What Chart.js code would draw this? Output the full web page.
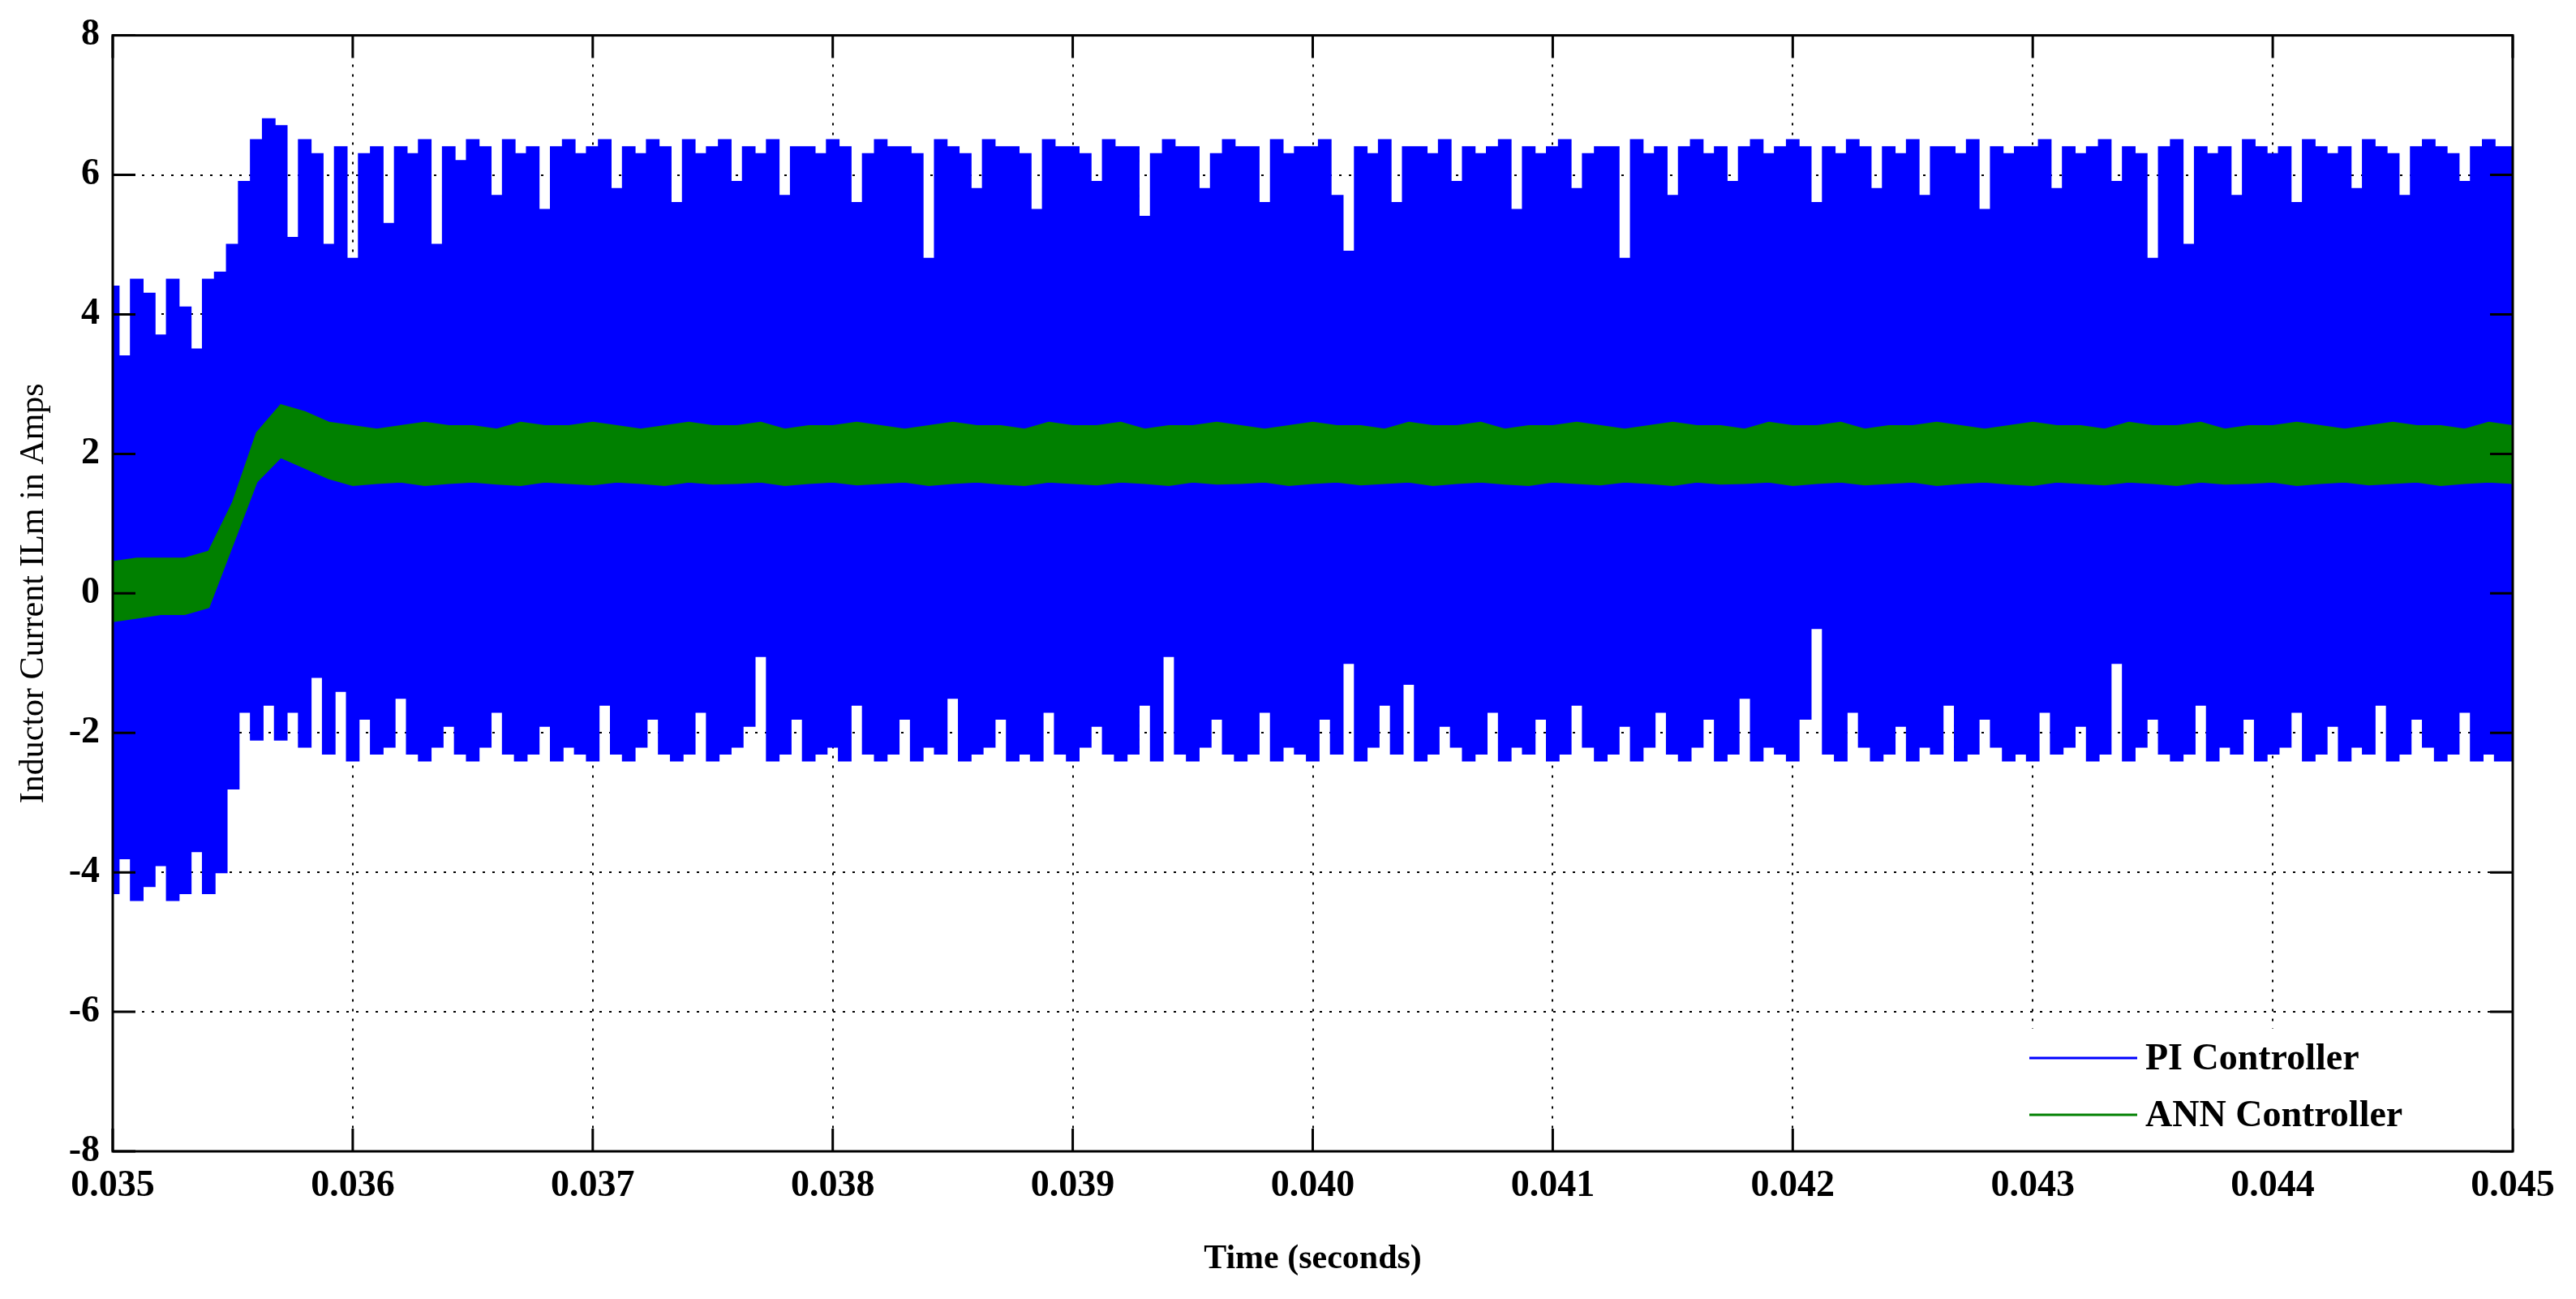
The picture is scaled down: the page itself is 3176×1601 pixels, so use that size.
<!DOCTYPE html>
<html>
<head>
<meta charset="utf-8">
<script src="https://cdn.jsdelivr.net/npm/chart.js@4.4.0/dist/chart.umd.min.js"></script>
<style>
  html, body { margin: 0; padding: 0; background: #fff; }
  #wrap { width: 3176px; height: 1601px; }
</style>
</head>
<body>
<div id="wrap"><canvas id="grafico" width="3176" height="1601"></canvas></div>
<script>
// dados (envelopes superior e inferior de cada corrente)
const tInicio = 0.035;
const passoAzul = 0.00005;
const passoVerde = 0.0001;

const piSuperior = [
  4.4,3.4,4.5,4.3,3.7,4.5,4.1,3.5,4.5,4.6,5.0,5.9,6.5,6.8,6.7,5.1,6.5,6.3,5.0,6.4,
  4.8,6.3,6.4,5.3,6.4,6.3,6.5,5.0,6.4,6.2,6.5,6.4,5.7,6.5,6.3,6.4,5.5,6.4,6.5,6.3,
  6.4,6.5,5.8,6.4,6.3,6.5,6.4,5.6,6.5,6.3,6.4,6.5,5.9,6.4,6.3,6.5,5.7,6.4,6.4,6.3,
  6.5,6.4,5.6,6.3,6.5,6.4,6.4,6.3,4.8,6.5,6.4,6.3,5.8,6.5,6.4,6.4,6.3,5.5,6.5,6.4,
  6.4,6.3,5.9,6.5,6.4,6.4,5.4,6.3,6.5,6.4,6.4,5.8,6.3,6.5,6.4,6.4,5.6,6.5,6.3,6.4,
  6.4,6.5,5.7,4.9,6.4,6.3,6.5,5.6,6.4,6.4,6.3,6.5,5.9,6.4,6.3,6.4,6.5,5.5,6.4,6.3,
  6.4,6.5,5.8,6.3,6.4,6.4,4.8,6.5,6.3,6.4,5.7,6.4,6.5,6.3,6.4,5.9,6.4,6.5,6.3,6.4,
  6.5,6.4,5.6,6.4,6.3,6.5,6.4,5.8,6.4,6.3,6.5,5.7,6.4,6.4,6.3,6.5,5.5,6.4,6.3,6.4,
  6.4,6.5,5.8,6.4,6.3,6.4,6.5,5.9,6.4,6.3,4.8,6.4,6.5,5.0,6.4,6.3,6.4,5.7,6.5,6.4,
  6.3,6.4,5.6,6.5,6.4,6.3,6.4,5.8,6.5,6.4,6.3,5.7,6.4,6.5,6.4,6.3,5.9,6.4,6.5,6.4,6.4
];
const piInferior = [
  -4.3,-3.8,-4.4,-4.2,-3.9,-4.4,-4.3,-3.7,-4.3,-4.0,-2.8,-1.7,-2.1,-1.6,-2.1,-1.7,-2.2,-1.2,-2.3,-1.4,
  -2.4,-1.8,-2.3,-2.2,-1.5,-2.3,-2.4,-2.2,-1.9,-2.3,-2.4,-2.2,-1.7,-2.3,-2.4,-2.3,-1.9,-2.4,-2.2,-2.3,
  -2.4,-1.6,-2.3,-2.4,-2.2,-1.8,-2.3,-2.4,-2.3,-1.7,-2.4,-2.3,-2.2,-1.9,-0.9,-2.4,-2.3,-1.8,-2.4,-2.3,
  -2.2,-2.4,-1.6,-2.3,-2.4,-2.3,-1.8,-2.4,-2.2,-2.3,-1.5,-2.4,-2.3,-2.2,-1.8,-2.4,-2.3,-2.4,-1.7,-2.3,
  -2.4,-2.2,-1.9,-2.3,-2.4,-2.3,-1.6,-2.4,-0.9,-2.3,-2.4,-2.2,-1.8,-2.3,-2.4,-2.3,-1.7,-2.4,-2.2,-2.3,
  -2.4,-1.8,-2.3,-1.0,-2.4,-2.2,-1.6,-2.3,-1.3,-2.4,-2.3,-1.9,-2.2,-2.4,-2.3,-1.7,-2.4,-2.2,-2.3,-1.8,
  -2.4,-2.3,-1.6,-2.2,-2.4,-2.3,-1.9,-2.4,-2.2,-1.7,-2.3,-2.4,-2.2,-1.8,-2.4,-2.3,-1.5,-2.4,-2.2,-2.3,
  -2.4,-1.8,-0.5,-2.3,-2.4,-1.7,-2.2,-2.4,-2.3,-1.9,-2.4,-2.2,-2.3,-1.6,-2.4,-2.3,-1.8,-2.2,-2.4,-2.3,
  -2.4,-1.7,-2.3,-2.2,-1.9,-2.4,-2.3,-1.0,-2.4,-2.2,-1.8,-2.3,-2.4,-2.3,-1.6,-2.4,-2.2,-2.3,-1.8,-2.4,
  -2.3,-2.2,-1.7,-2.4,-2.3,-1.9,-2.4,-2.2,-2.3,-1.6,-2.4,-2.3,-1.8,-2.2,-2.4,-2.3,-1.7,-2.4,-2.3,-2.4,-2.4
];

const annSuperior = [
  0.45,0.5,0.5,0.5,0.6,1.3,2.3,2.7,2.6,2.45,2.4,2.35,2.4,2.45,2.4,2.4,2.35,2.45,2.4,2.4,
  2.45,2.4,2.35,2.4,2.45,2.4,2.4,2.45,2.35,2.4,2.4,2.45,2.4,2.35,2.4,2.45,2.4,2.4,2.35,2.45,
  2.4,2.4,2.45,2.35,2.4,2.4,2.45,2.4,2.35,2.4,2.45,2.4,2.4,2.35,2.45,2.4,2.4,2.45,2.35,2.4,
  2.4,2.45,2.4,2.35,2.4,2.45,2.4,2.4,2.35,2.45,2.4,2.4,2.45,2.35,2.4,2.4,2.45,2.4,2.35,2.4,
  2.45,2.4,2.4,2.35,2.45,2.4,2.4,2.45,2.35,2.4,2.4,2.45,2.4,2.35,2.4,2.45,2.4,2.4,2.35,2.45,2.4
];
const annInferior = [
  -0.4,-0.35,-0.3,-0.3,-0.2,0.7,1.6,1.95,1.8,1.65,1.55,1.58,1.6,1.55,1.58,1.6,1.57,1.55,1.6,1.58,
  1.56,1.6,1.58,1.55,1.6,1.57,1.58,1.6,1.55,1.58,1.6,1.56,1.58,1.6,1.55,1.58,1.6,1.57,1.55,1.6,
  1.58,1.56,1.6,1.58,1.55,1.6,1.57,1.58,1.6,1.55,1.58,1.6,1.56,1.58,1.6,1.55,1.58,1.6,1.57,1.55,
  1.6,1.58,1.56,1.6,1.58,1.55,1.6,1.57,1.58,1.6,1.55,1.58,1.6,1.56,1.58,1.6,1.55,1.58,1.6,1.57,
  1.55,1.6,1.58,1.56,1.6,1.58,1.55,1.6,1.57,1.58,1.6,1.55,1.58,1.6,1.56,1.58,1.6,1.55,1.58,1.6,1.58
];

const legendas = ['PI Controller', 'ANN Controller'];
const coresLinhas = ['#0000ff', '#008000'];

function pontos(valores, passo) {
  return valores.map((v, i) => ({ x: tInicio + i * passo, y: v }));
}

const fonte = 'Liberation Serif, Times New Roman, serif';

// moldura, marcas internas, rotulos dos eixos e legenda
const molduraPlugin = {
  id: 'moldura',
  afterDraw(chart) {
    const ctx = chart.ctx;
    const a = chart.chartArea;
    const sx = chart.scales.x, sy = chart.scales.y;
    ctx.save();
    ctx.strokeStyle = '#000';
    ctx.lineWidth = 3;
    ctx.setLineDash([]);
    // marcas dos ticks
    sx.ticks.forEach(t => {
      const px = sx.getPixelForValue(t.value);
      ctx.beginPath();
      ctx.moveTo(px, a.top); ctx.lineTo(px, a.top + 28);
      ctx.moveTo(px, a.bottom); ctx.lineTo(px, a.bottom - 28);
      ctx.stroke();
    });
    sy.ticks.forEach(t => {
      const py = sy.getPixelForValue(t.value);
      ctx.beginPath();
      ctx.moveTo(a.left, py); ctx.lineTo(a.left + 28, py);
      ctx.moveTo(a.right, py); ctx.lineTo(a.right - 28, py);
      ctx.stroke();
    });
    // legenda
    const lx = 2487, ly = 1268;
    ctx.fillStyle = '#fff';
    ctx.fillRect(lx, ly, a.right - lx, a.bottom - ly);
    ctx.font = 'bold 46px ' + fonte;
    ctx.textBaseline = 'middle';
    ctx.lineWidth = 3;
    legendas.forEach((txt, i) => {
      const y = 1304 + i * 70;
      ctx.strokeStyle = coresLinhas[i];
      ctx.beginPath();
      ctx.moveTo(2502, y); ctx.lineTo(2635, y);
      ctx.stroke();
      ctx.fillStyle = '#000';
      ctx.textAlign = 'left';
      ctx.fillText(txt, 2645, y + 2);
    });
    // caixa do grafico
    ctx.strokeStyle = '#000';
    ctx.lineWidth = 3;
    ctx.strokeRect(a.left, a.top, a.right - a.left, a.bottom - a.top);
    // titulos dos eixos
    ctx.fillStyle = '#000';
    ctx.textAlign = 'center';
    ctx.font = 'bold 42px ' + fonte;
    ctx.fillText('Time (seconds)', (a.left + a.right) / 2, 1552);
    ctx.translate(42, (a.top + a.bottom) / 2);
    ctx.rotate(-Math.PI / 2);
    ctx.font = '42px ' + fonte;
    ctx.fillText('Inductor Current ILm in Amps', 0, 0);
    ctx.restore();
  }
};

const ctx = document.getElementById('grafico').getContext('2d');
const grafico = new Chart(ctx, {
  type: 'line',
  data: {
    datasets: [
      { label: 'ANN sup', data: pontos(annSuperior, passoVerde), borderColor: '#008000', backgroundColor: '#008000', borderWidth: 2, pointRadius: 0, fill: '+1' },
      { label: 'ANN inf', data: pontos(annInferior, passoVerde), borderColor: '#008000', borderWidth: 2, pointRadius: 0, fill: false },
      { label: 'PI sup', data: pontos(piSuperior, passoAzul), borderColor: '#0000ff', backgroundColor: '#0000ff', borderWidth: 2, pointRadius: 0, stepped: 'middle', fill: '+1' },
      { label: 'PI inf', data: pontos(piInferior, passoAzul), borderColor: '#0000ff', borderWidth: 2, pointRadius: 0, stepped: 'middle', fill: false }
    ]
  },
  options: {
    responsive: false,
    animation: false,
    devicePixelRatio: 1,
    layout: { padding: { left: 0, right: 78, top: 34, bottom: 0 } },
    plugins: { legend: { display: false }, tooltip: { enabled: false } },
    scales: {
      x: {
        type: 'linear',
        min: 0.035, max: 0.045,
        afterFit: s => { s.height = 182; },
        afterBuildTicks: s => {
          s.ticks = [];
          for (let i = 0; i <= 10; i++) s.ticks.push({ value: 0.035 + i * 0.001 });
        },
        ticks: {
          callback: v => v.toFixed(3),
          font: { family: fonte, size: 46, weight: 'bold' },
          color: '#000', padding: 16, maxRotation: 0
        },
        grid: { color: '#000', lineWidth: 2, drawTicks: false },
        border: { display: false, dash: [3, 9] }
      },
      y: {
        min: -8, max: 8,
        afterFit: s => { s.width = 139; },
        ticks: {
          stepSize: 2,
          font: { family: fonte, size: 46, weight: 'bold' },
          color: '#000', padding: 16
        },
        grid: { color: '#000', lineWidth: 2, drawTicks: false },
        border: { display: false, dash: [3, 9] }
      }
    }
  },
  plugins: [molduraPlugin]
});
</script>
</body>
</html>
